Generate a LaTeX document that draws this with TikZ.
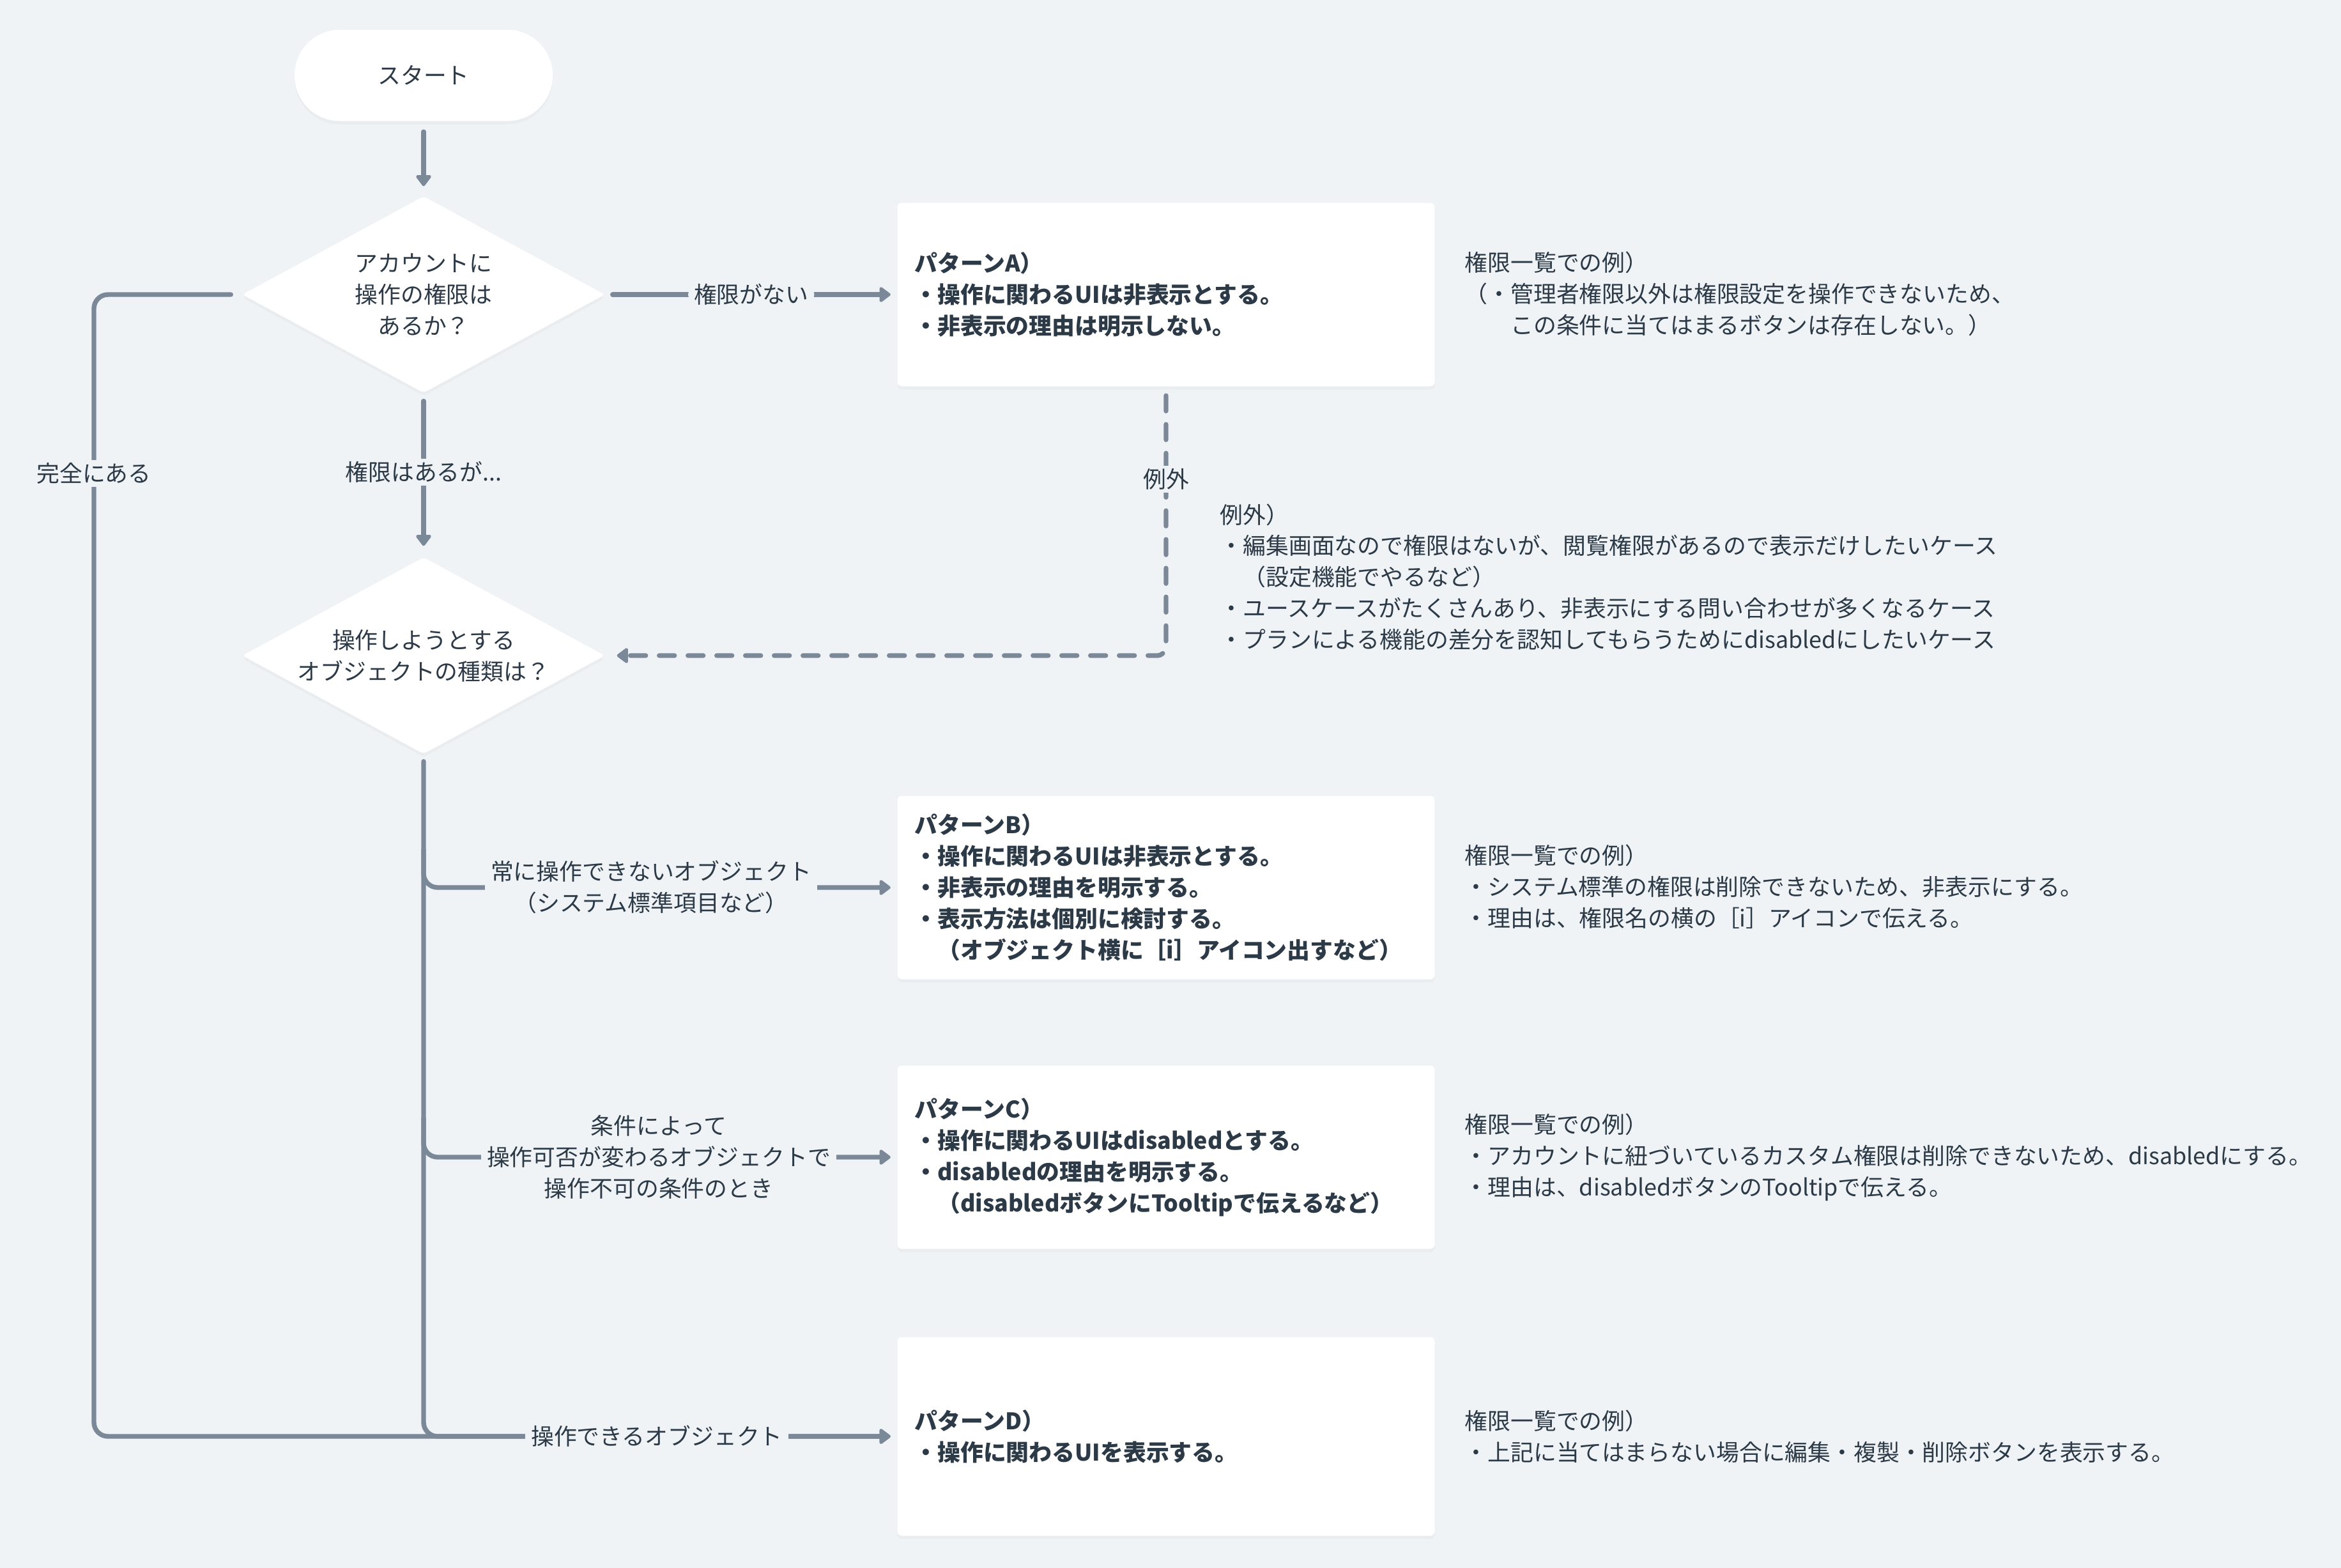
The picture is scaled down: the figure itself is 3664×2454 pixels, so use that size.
\documentclass[tikz,border=0pt]{standalone}
\usepackage{fontspec}
\setmainfont{Noto Sans CJK JP}
\usetikzlibrary{arrows.meta,shapes.geometric,shadows}
\definecolor{bgc}{HTML}{EFF3F6}
\definecolor{linec}{HTML}{7A8898}
\definecolor{inkc}{HTML}{2C3A47}
\begin{document}
\begin{tikzpicture}[x=0.1mm,y=-0.1mm,
  every node/.style={font=\fontsize{10.2pt}{13.9pt}\selectfont, text=inkc},
  conn/.style={draw=linec, line width=2.1pt, line cap=round, line join=round, rounded corners=2.2mm},
  arr/.style={-{Triangle[length=1.9mm,width=2.7mm,round]}},
  dashline/.style={dash pattern=on 2.4mm off 2.1mm},
  softshadow/.style={drop shadow={opacity=0.05, shadow xshift=0pt, shadow yshift=-0.5mm}},
  terminal/.style={fill=white, rounded corners=7.1mm, minimum width=40.4mm, minimum height=14.3mm, softshadow},
  decision/.style={diamond, fill=white, aspect=1.84, minimum width=56.8mm, minimum height=30.8mm, inner sep=0pt, align=center, rounded corners=0.6mm, softshadow},
  panel/.style={fill=white, rounded corners=0.7mm, minimum width=84.1mm, minimum height=28.7mm, text width=78.7mm, inner xsep=2.7mm, inner ysep=0pt, align=left, font={\fontsize{10.2pt}{13.9pt}\selectfont\bfseries}, softshadow},
  note/.style={anchor=west, align=left, inner sep=0pt},
  lab/.style={fill=bgc, inner xsep=0.9mm, inner ysep=0.4mm, align=center}
]
\useasboundingbox (0,0) rectangle (3664,2454);
\fill[bgc] (0,0) rectangle (3664,2454);

% flow nodes
\node[terminal] (start) at (663,118) {スタート};
\node[decision] (ask) at (663,461) {アカウントに\\操作の権限は\\あるか？};
\node[decision] (kind) at (663,1026) {操作しようとする\\オブジェクトの種類は？};

% pattern panels
\node[panel] (pa) at (1825,461) {パターンA）\\・操作に関わるUIは非表示とする。\\・非表示の理由は明示しない。};
\node[panel] (pb) at (1825,1389) {パターンB）\\・操作に関わるUIは非表示とする。\\・非表示の理由を明示する。\\・表示方法は個別に検討する。\\　（オブジェクト横に［i］アイコン出すなど）};
\node[panel] (pc) at (1825,1811) {パターンC）\\・操作に関わるUIはdisabledとする。\\・disabledの理由を明示する。\\　（disabledボタンにTooltipで伝えるなど）};
\node[panel, minimum height=31.1mm] (pd) at (1825,2248) {パターンD）\\・操作に関わるUIを表示する。};

% side notes
\node[note] (na) at (2292,460) {権限一覧での例）\\（・管理者権限以外は権限設定を操作できないため、\\　　この条件に当てはまるボタンは存在しない。）};
\node[note] (nx) at (1909,903) {例外）\\・編集画面なので権限はないが、閲覧権限があるので表示だけしたいケース\\　（設定機能でやるなど）\\・ユースケースがたくさんあり、非表示にする問い合わせが多くなるケース\\・プランによる機能の差分を認知してもらうためにdisabledにしたいケース};
\node[note] (nb) at (2292,1388) {権限一覧での例）\\・システム標準の権限は削除できないため、非表示にする。\\・理由は、権限名の横の［i］アイコンで伝える。};
\node[note] (nc) at (2292,1811) {権限一覧での例）\\・アカウントに紐づいているカスタム権限は削除できないため、disabledにする。\\・理由は、disabledボタンのTooltipで伝える。};
\node[note] (nd) at (2292,2248) {権限一覧での例）\\・上記に当てはまらない場合に編集・複製・削除ボタンを表示する。};

% routing points
\coordinate (lc) at (147,461);
\coordinate (lb) at (147,2248);
\coordinate (jb) at (663,1330);
\coordinate (jc) at (663,1750);

% connectors
\draw[conn,arr,shorten <=1.6mm,shorten >=1.5mm] (start) -- (ask);
\draw[conn,arr,shorten <=1.1mm,shorten >=1mm] (ask.east) -- node[lab] (lno) {権限がない} (pa.west);
\draw[conn,arr,shorten <=1.2mm,shorten >=1.7mm] (ask.south) -- (kind.north);
\draw[conn,arr,shorten <=1.7mm,shorten >=1mm] (ask.west) -- (lc) -- (lb) -- (pd.west);
\draw[conn,arr,shorten <=1.1mm,shorten >=1mm] (kind.south) -- (kind.south |- pd.west) -- (pd.west);
\draw[conn,arr,shorten >=1mm] (jb) -- (jb |- pb.west) -- (pb.west);
\draw[conn,arr,shorten >=1mm] (jc) -- (jc |- pc.west) -- (pc.west);
\draw[conn,dashline,arr,rounded corners=1.4mm,shorten <=1.4mm,shorten >=1.8mm] (pa.south) -- (pa.south |- kind.east) -- (kind.east);

% connector labels
\node[lab] (lsome) at (663,739) {権限はあるが...};
\node[lab] (lfull) at (147,741) {完全にある};
\node[lab] (lexc) at (1825,750) {例外};
\node[lab] (lb1) at (1019,1388) {常に操作できないオブジェクト\\（システム標準項目など）};
\node[lab] (lc1) at (1031,1811) {条件によって\\操作可否が変わるオブジェクトで\\操作不可の条件のとき};
\node[lab] (ld1) at (1028,2248) {操作できるオブジェクト};
\end{tikzpicture}
\end{document}
